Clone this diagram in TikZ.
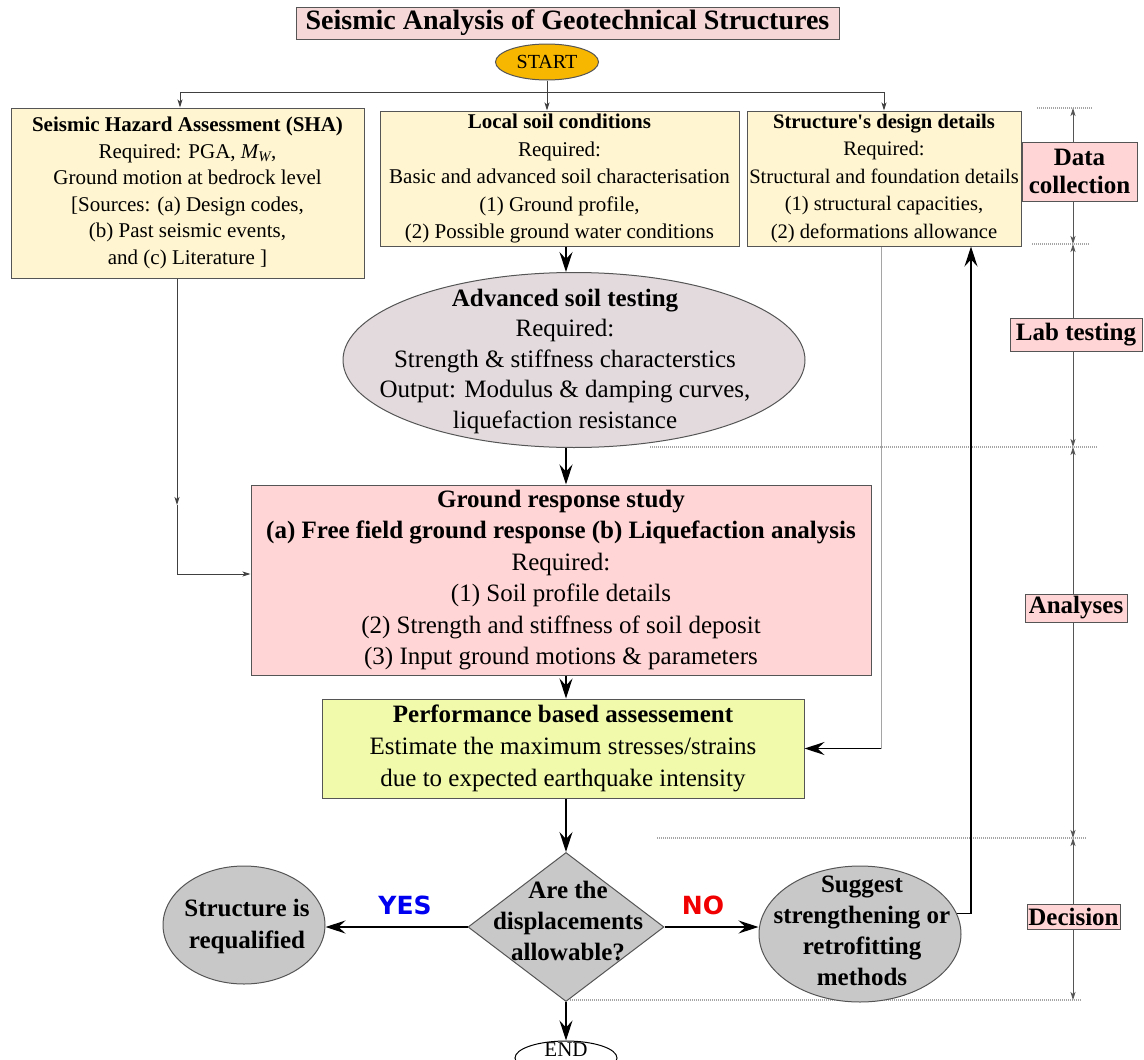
\documentclass[tikz,border=0pt]{standalone}
\usepackage{fontspec}
\setmainfont{Liberation Serif}
\newfontfamily\yesfont{DejaVu Sans}
\usetikzlibrary{arrows.meta,shapes.geometric}

\definecolor{titlepink}{RGB}{245,215,215}
\definecolor{startorange}{RGB}{247,182,0}
\definecolor{cream}{RGB}{255,245,208}
\definecolor{ellgray}{RGB}{226,218,220}
\definecolor{grpink}{RGB}{255,213,213}
\definecolor{perfgreen}{RGB}{240,250,170}
\definecolor{decgray}{RGB}{200,200,200}
\definecolor{edgec}{RGB}{85,85,85}
\definecolor{guidec}{RGB}{165,165,165}
\definecolor{yesblue}{RGB}{0,0,240}
\definecolor{nored}{RGB}{240,0,0}

\newcommand{\fsz}[2]{\fontsize{#1}{#2}\selectfont}

\begin{document}
\begin{tikzpicture}[x=1pt,y=-1pt,
  box/.style={draw=edgec, line width=1pt, rectangle, inner sep=0pt, align=center},
  topbox/.style={box, fill=cream},
  sidelabel/.style={draw=edgec, fill=grpink, line width=0.8pt, inner sep=0pt, align=center, font=\bfseries\fsz{25}{28}},
  bigarrow/.style={-{Stealth[length=20pt,width=13pt,inset=7pt]}, line width=1.3pt, draw=black},
  smallarrow/.style={-{Stealth[length=8pt,width=5pt,inset=2pt]}, line width=0.9pt, draw=black!75},
  dimarrow/.style={{Stealth[length=8pt,width=5pt,inset=2pt]}-{Stealth[length=8pt,width=5pt,inset=2pt]}, line width=0.8pt, draw=edgec},
  guide/.style={draw=guidec, line width=1.2pt, dash pattern=on 1pt off 1pt},
  shapebox/.style={draw=edgec, line width=1pt, inner sep=0pt},
  txt/.style={align=center, inner sep=0pt}
]
\useasboundingbox (0,0) rectangle (1144,1060);

% ---------- axis coordinates ----------
\coordinate (ax) at (566,0);
\coordinate (sx) at (881,0);
\coordinate (rx) at (971,0);

% ---------- guides and dimension line ----------
\draw[guide] (1037,108) -- (1093,108);
\draw[guide] (1032,244) -- (1089,244);
\draw[guide] (650,447) -- (1097,447);
\draw[guide] (657,838) -- (1087,838);
\draw[guide] (570,1000) -- (1082,1000);

\coordinate (d0) at (1073,108);
\coordinate (d1) at (1073,244);
\coordinate (d2) at (1073,447);
\coordinate (d3) at (1073,838);
\coordinate (d4) at (1073,1000);
\draw[dimarrow] (d0) -- (d1);
\draw[dimarrow] (d1) -- (d2);
\draw[dimarrow] (d2) -- (d3);
\draw[dimarrow] (d3) -- (d4);

% ---------- side labels ----------
\node[sidelabel, minimum width=115, minimum height=59] (dc) at (1079.5,171.5) {Data\\collection};
\node[sidelabel, minimum width=132, minimum height=33] (lt) at (1076,334.5) {Lab testing};
\node[sidelabel, minimum width=102, minimum height=28] (an) at (1076,608) {Analyses};
\node[sidelabel, minimum width=93, minimum height=25] (de) at (1073.5,917) {Decision};

% ---------- title and start ----------
\node[box, fill=titlepink, minimum width=543, minimum height=32, font=\bfseries\fsz{28}{30}] (title) at (567.5,23) {Seismic Analysis of Geotechnical Structures};
\node[ellipse, shapebox, fill=startorange, minimum width=103, minimum height=36, font=\fsz{20}{22}] (start) at (547,62) {START};

% ---------- top boxes ----------
\node[topbox, minimum width=353, minimum height=170, font=\fsz{21}{26.5}] (sha) at (187.5,193)
 {\textbf{Seismic Hazard Assessment (SHA)}\\Required: PGA, \textit{M\textsubscript{W}},\\Ground motion at bedrock level\\{[}Sources: (a) Design codes,\\(b) Past seismic events,\\and (c) Literature ]};
\node[topbox, minimum width=359, minimum height=135, font=\fsz{21}{27.5}] (loc) at (559.5,178.5)
 {\textbf{Local soil conditions}\\Required:\\Basic and advanced soil characterisation\\(1) Ground profile,\\(2) Possible ground water conditions};
\node[topbox, minimum width=274, minimum height=135, font=\fsz{20.6}{27.5}] (str) at (884,178.5)
 {\textbf{Structure\textquotesingle s design details}\\Required:\\Structural and foundation details\\(1) structural capacities,\\(2) deformations allowance};

% start distribution
\coordinate (hc) at (547,92);
\coordinate (j1) at (180,92);
\coordinate (j2) at (884,92);
\draw[line width=0.9pt, draw=black!75] (start.south) -- (hc);
\draw[line width=0.9pt, draw=black!75] (j1) -- (j2);
\draw[smallarrow] (j1) -- (j1 |- sha.north);
\draw[smallarrow] (hc) -- (hc |- loc.north);
\draw[smallarrow] (j2) -- (j2 |- str.north);

% ---------- advanced soil testing ----------
\node[ellipse, shapebox, fill=ellgray, minimum width=462, minimum height=175] (ast) at (574,360) {};
\node[txt, font=\fsz{25}{30.5}] (astt) at (565,361)
 {\textbf{Advanced soil testing}\\Required:\\Strength \& stiffness characterstics\\Output: Modulus \& damping curves,\\liquefaction resistance};
\draw[bigarrow] (loc.south -| ax) -- (ast.north -| ax);

% ---------- ground response ----------
\node[box, fill=grpink, minimum width=620, minimum height=190, font=\fsz{25}{31.5}] (gr) at (561,580)
 {\textbf{Ground response study}\\\textbf{(a) Free field ground response (b) Liquefaction analysis}\\Required:\\(1) Soil profile details\\(2) Strength and stiffness of soil deposit\\(3) Input ground motions \& parameters};
\draw[bigarrow] (ast.south -| ax) -- (gr.north -| ax);

\coordinate (sj) at (177,505);
\draw[smallarrow] (sha.south -| sj) -- (sj);
\draw[smallarrow] (sj) |- ([yshift=6pt]gr.west);

% ---------- performance ----------
\node[box, fill=perfgreen, minimum width=482, minimum height=99, font=\fsz{25}{32}] (perf) at (563,748.5)
 {\textbf{Performance based assessement}\\Estimate the maximum stresses/strains\\due to expected earthquake intensity};
\draw[bigarrow] (gr.south -| ax) -- (perf.north -| ax);
\draw[line width=1pt, draw=guidec] (str.south -| sx) -- (sx |- perf.east);
\draw[bigarrow] (sx |- perf.east) -- (perf.east);

% ---------- decision ----------
\node[diamond, shapebox, fill=decgray, minimum width=196, minimum height=149] (dec) at (566,927) {};
\node[txt, font=\bfseries\fsz{25}{31}] (dect) at (568,921) {Are the\\displacements\\allowable?};
\draw[bigarrow] (perf.south -| ax) -- (dec.north);

\node[ellipse, shapebox, fill=decgray, minimum width=162, minimum height=118] (req) at (244,925) {};
\node[txt, font=\bfseries\fsz{25}{32}] (reqt) at (247,926) {Structure is\\requalified};

\node[ellipse, shapebox, fill=decgray, minimum width=202, minimum height=136] (sug) at (860,934) {};
\node[txt, font=\bfseries\fsz{25}{31}] (sugt) at (862,931) {Suggest\\strengthening or\\retrofitting\\methods};

\draw[bigarrow] (dec.west) -- (dec.west -| req.east);
\draw[bigarrow] (dec.east) -- (dec.east -| sug.west);
\node[font=\yesfont\bfseries\fsz{25}{27}, text=yesblue] (yes) at (405,905) {YES};
\node[font=\yesfont\bfseries\fsz{25}{27}, text=nored] (no) at (703,905) {NO};

\draw[bigarrow] (sug.12) -| (str.south -| rx);

% ---------- end ----------
\node[ellipse, draw=black, line width=1pt, fill=white, minimum width=102, minimum height=34, inner sep=0pt] (endn) at (566,1058) {};
\node[txt, font=\fsz{21}{22}] (endt) at (566,1050) {END};
\draw[bigarrow] (dec.south) -- (endn.north);
\end{tikzpicture}
\end{document}
